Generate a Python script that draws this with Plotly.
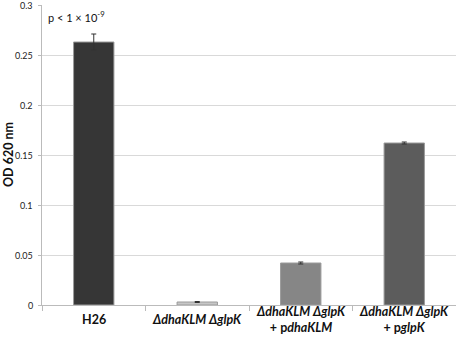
import plotly.graph_objects as go

categories = ["H26", "dKLM_dglpK", "dKLM_dglpK_pdha", "dKLM_dglpK_pglp"]
labels = [
    "<b>H26</b>",
    "<b><i>ΔdhaKLM ΔglpK</i></b>",
    "<b><i>ΔdhaKLM ΔglpK</i></b><br><b>+ p<i>dhaKLM</i></b>",
    "<b><i>ΔdhaKLM ΔglpK</i></b><br><b>+ p<i>glpK</i></b>",
]
values = [0.263, 0.003, 0.042, 0.162]
errors = [0.008, 0.0005, 0.001, 0.001]
colors = ["#363636", "#c6c6c6", "#868686", "#5c5c5c"]
yticks = [0, 0.05, 0.1, 0.15, 0.2, 0.25, 0.3]
yticklabels = ["0", "0.05", "0.1", "0.15", "0.2", "0.25", "0.3"]

font = "Lato, 'Open Sans', sans-serif"
yrange = [0, 0.3]

fig = go.Figure(go.Bar(
    x=categories, y=values,
    marker=dict(color=colors, line=dict(color="#9a9a9a", width=1)),
    width=0.39,
    error_y=dict(type="data", array=errors, color="#333333", thickness=1, width=2.5),
))

# category labels
for c, lab in zip(categories, labels):
    fig.add_annotation(x=c, xref="x", y=-0.047, yref="paper", text=lab,
                       showarrow=False, yanchor="middle",
                       font=dict(family=font, size=12.5, color="#111111"))

# y tick labels
for v, t in zip(yticks, yticklabels):
    fig.add_annotation(x=0, xref="paper", y=v, yref="y", text=t,
                       showarrow=False, xanchor="right", yanchor="middle",
                       xshift=-7, font=dict(family=font, size=9, color="#222222"))

# y axis title
fig.add_annotation(x=0, xref="paper", y=0.5, yref="paper", text="<b>OD 620 nm</b>",
                   showarrow=False, textangle=-90, xanchor="center", yanchor="middle",
                   xshift=-34, font=dict(family=font, size=12.5, color="#111111"))

fig.add_annotation(x=0.009, xref="paper", y=0.962, yref="paper",
                   text="p < 1 × 10<sup>-9</sup>", showarrow=False,
                   xanchor="left", yanchor="middle",
                   font=dict(family=font, size=11, color="#111111"))

fig.update_layout(
    width=456, height=337,
    margin=dict(l=42, r=0, t=5, b=32),
    paper_bgcolor="white", plot_bgcolor="white",
    showlegend=False,
    font=dict(family=font, size=10, color="#222222"),
)
fig.update_xaxes(
    showticklabels=False, ticks="outside", tickson="boundaries", ticklen=5,
    tickcolor="#bbbbbb", showline=True, linecolor="#bbbbbb", linewidth=1,
    showgrid=False, zeroline=False,
)
fig.update_yaxes(
    range=yrange, tickvals=yticks, showticklabels=False,
    ticks="outside", ticklen=3, tickcolor="#bbbbbb",
    showline=True, linecolor="#bbbbbb", linewidth=1,
    showgrid=True, gridcolor="#d9d9d9", gridwidth=1, zeroline=False,
)

fig.write_html("out.html", config={"displayModeBar": False},
               post_script="document.body.style.margin='0px';document.body.style.padding='0px';")
